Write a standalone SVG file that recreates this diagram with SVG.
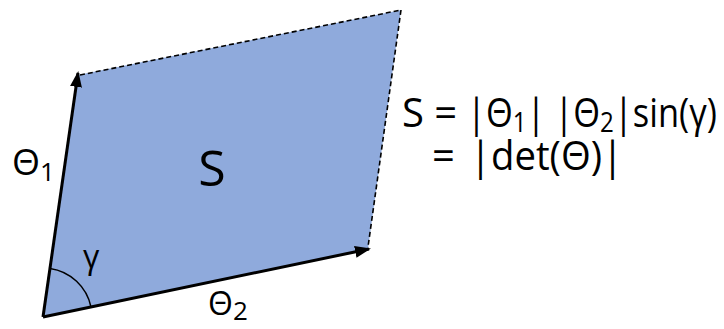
<svg xmlns="http://www.w3.org/2000/svg" width="724" height="329" viewBox="0 0 724 329">
<defs>
<style>
.t{font-family:"Open Sans","Noto Sans","DejaVu Sans",sans-serif;fill:#000}
.arrow{stroke:#000;stroke-width:3;fill:none}
.dash{stroke:#000;stroke-width:1.6;stroke-dasharray:5 3;fill:none}
</style>
<marker id="ah" viewBox="0 0 16 12" refX="14" refY="6" markerWidth="16" markerHeight="12" markerUnits="userSpaceOnUse" orient="auto">
<path d="M0,0 L16,6 L0,12 z" fill="#000"/>
</marker>
</defs>
<g id="parallelogram">
<polygon points="43,317 78,75 401,10 368,249" fill="#8FAADC"/>
<path d="M50,268.5 A49,49 0 0 1 91,307" stroke="#000" stroke-width="1.5" fill="none"/>
<text class="t" x="212" y="186" font-size="50" text-anchor="middle">S</text>
</g>
<g id="connectors">
<line class="dash" x1="80" y1="75" x2="401" y2="10"/>
<line class="dash" x1="401" y1="10" x2="368" y2="247"/>
<line class="arrow" x1="43" y1="317" x2="78" y2="73" marker-end="url(#ah)"/>
<line class="arrow" x1="43" y1="317" x2="369" y2="249" marker-end="url(#ah)"/>
</g>
<g id="labels">
<text class="t" x="12" y="175" font-size="36">Θ<tspan font-size="26" dy="6">1</tspan></text>
<text class="t" x="208" y="315" font-size="32">Θ<tspan font-size="26" dy="5">2</tspan></text>
<text class="t" x="83" y="268" font-size="32">γ</text>
</g>
<g id="formula">
<text class="t" font-size="40" x="402" y="127">S =</text>
<text class="t" font-size="40" x="467" y="127" textLength="250" lengthAdjust="spacingAndGlyphs">|Θ<tspan dy="5" font-size="28">1</tspan><tspan dy="-5">| |Θ</tspan><tspan dy="5" font-size="28">2</tspan><tspan dy="-5">|sin(γ)</tspan></text>
<text class="t" font-size="40" x="432" y="170">=</text>
<text class="t" font-size="40" x="470" y="170" textLength="153" lengthAdjust="spacingAndGlyphs">|det(Θ)|</text>
</g>
</svg>
